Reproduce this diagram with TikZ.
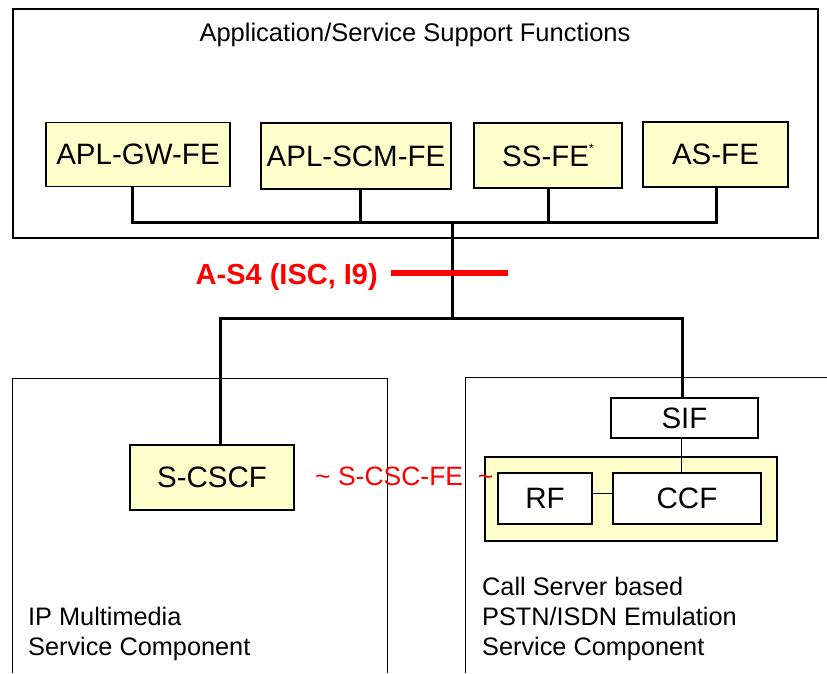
\documentclass[tikz,border=0pt]{standalone}
\usepackage{fontspec}
\setmainfont{Liberation Sans}
\definecolor{boxyellow}{HTML}{FFFFCC}
\definecolor{ired}{HTML}{FF0000}
\begin{document}
\begin{tikzpicture}[x=1pt,y=-1pt,
  fe/.style={draw=black, line width=1.5pt, fill=boxyellow, inner sep=0pt, font=\fontsize{29.5}{32}\selectfont},
  wbox/.style={draw=black, line width=1.5pt, fill=white, inner sep=0pt, font=\fontsize{29.5}{32}\selectfont},
  bus/.style={line width=3pt, line cap=rect},
  thin/.style={line width=1pt},
  lbl/.style={inner sep=0pt, align=left, font=\fontsize{25.3}{30}\selectfont}]
\useasboundingbox (0,0) rectangle (827,673);
% frames
\draw[line width=2pt] (13,9) rectangle (818,238);
\draw[thin] (12,673) -- (12,378) -- (387,378) -- (387,673);
\draw[thin] (465,673) -- (465,377) -- (830,377);
\node[inner sep=0pt, anchor=base, font=\fontsize{25.5}{30}\selectfont] (title) at (415,41) {Application/Service Support Functions};
% top FEs
\node[fe, minimum width=184pt, minimum height=64pt] (gw) at (138,154.5) {APL-GW-FE};
\node[fe, minimum width=190pt, minimum height=66pt] (scm) at (356,156) {APL-SCM-FE};
\node[fe, minimum width=148pt, minimum height=65pt] (ss) at (548,155.5) {SS-FE\raisebox{0.9ex}{\fontsize{12}{12}\selectfont *}};
\node[fe, minimum width=145pt, minimum height=65pt] (as) at (715.5,154.5) {AS-FE};
% upper bus
\coordinate (b1) at (132,222);
\coordinate (b2) at (360,222);
\coordinate (b3) at (548,222);
\coordinate (b4) at (716,222);
\coordinate (bt) at (452,222);
\coordinate (lt) at (452,318);
\coordinate (l1) at (220,318);
\coordinate (l2) at (682,318);
\draw[bus] (b1 |- gw.south) -- (b1) -- (b4) -- (b4 |- as.south);
\draw[bus] (b2 |- scm.south) -- (b2);
\draw[bus] (b3 |- ss.south) -- (b3);
\draw[bus] (bt) -- (lt);
% red interface
\coordinate (r1) at (391,273);
\coordinate (r2) at (508,273);
\draw[ired, line width=6pt] (r1) -- (r2);
\node[inner sep=0pt, anchor=east, text=ired, font=\bfseries\fontsize{29}{32}\selectfont] (as4) at (378,277) {A-S4 (ISC, I9)};
% lower components
\node[fe, minimum width=164pt, minimum height=65pt] (scscf) at (212,477.5) {S-CSCF};
\node[wbox, minimum width=147pt, minimum height=40pt] (sif) at (684.5,418) {SIF};
\node[fe, minimum width=292pt, minimum height=84pt] (cont) at (631,499) {};
\node[wbox, minimum width=94pt, minimum height=51pt] (rf) at (545,498.5) {RF};
\node[wbox, minimum width=148pt, minimum height=51pt] (ccf) at (687,498.5) {CCF};
% lower bus
\draw[bus] (l1 |- scscf.north) -- (l1) -- (l2) -- (l2 |- sif.north);
\coordinate (sc) at (681,0);
\draw[thin] (sc |- sif.south) -- (sc |- ccf.north);
\coordinate (rc) at (0,493);
\draw[thin] (rf.east |- rc) -- (ccf.west |- rc);
\node[inner sep=0pt, anchor=west, text=ired, font=\fontsize{26.5}{30}\selectfont] (csc) at (315,476) {\char`\~{} S-CSC-FE \ \char`\~};
% labels
\node[lbl, anchor=base west] (ipm) at (28,655) {IP Multimedia\\Service Component};
\node[lbl, anchor=base west] (pes) at (482,655) {Call Server based\\PSTN/ISDN Emulation\\Service Component};
\end{tikzpicture}
\end{document}
